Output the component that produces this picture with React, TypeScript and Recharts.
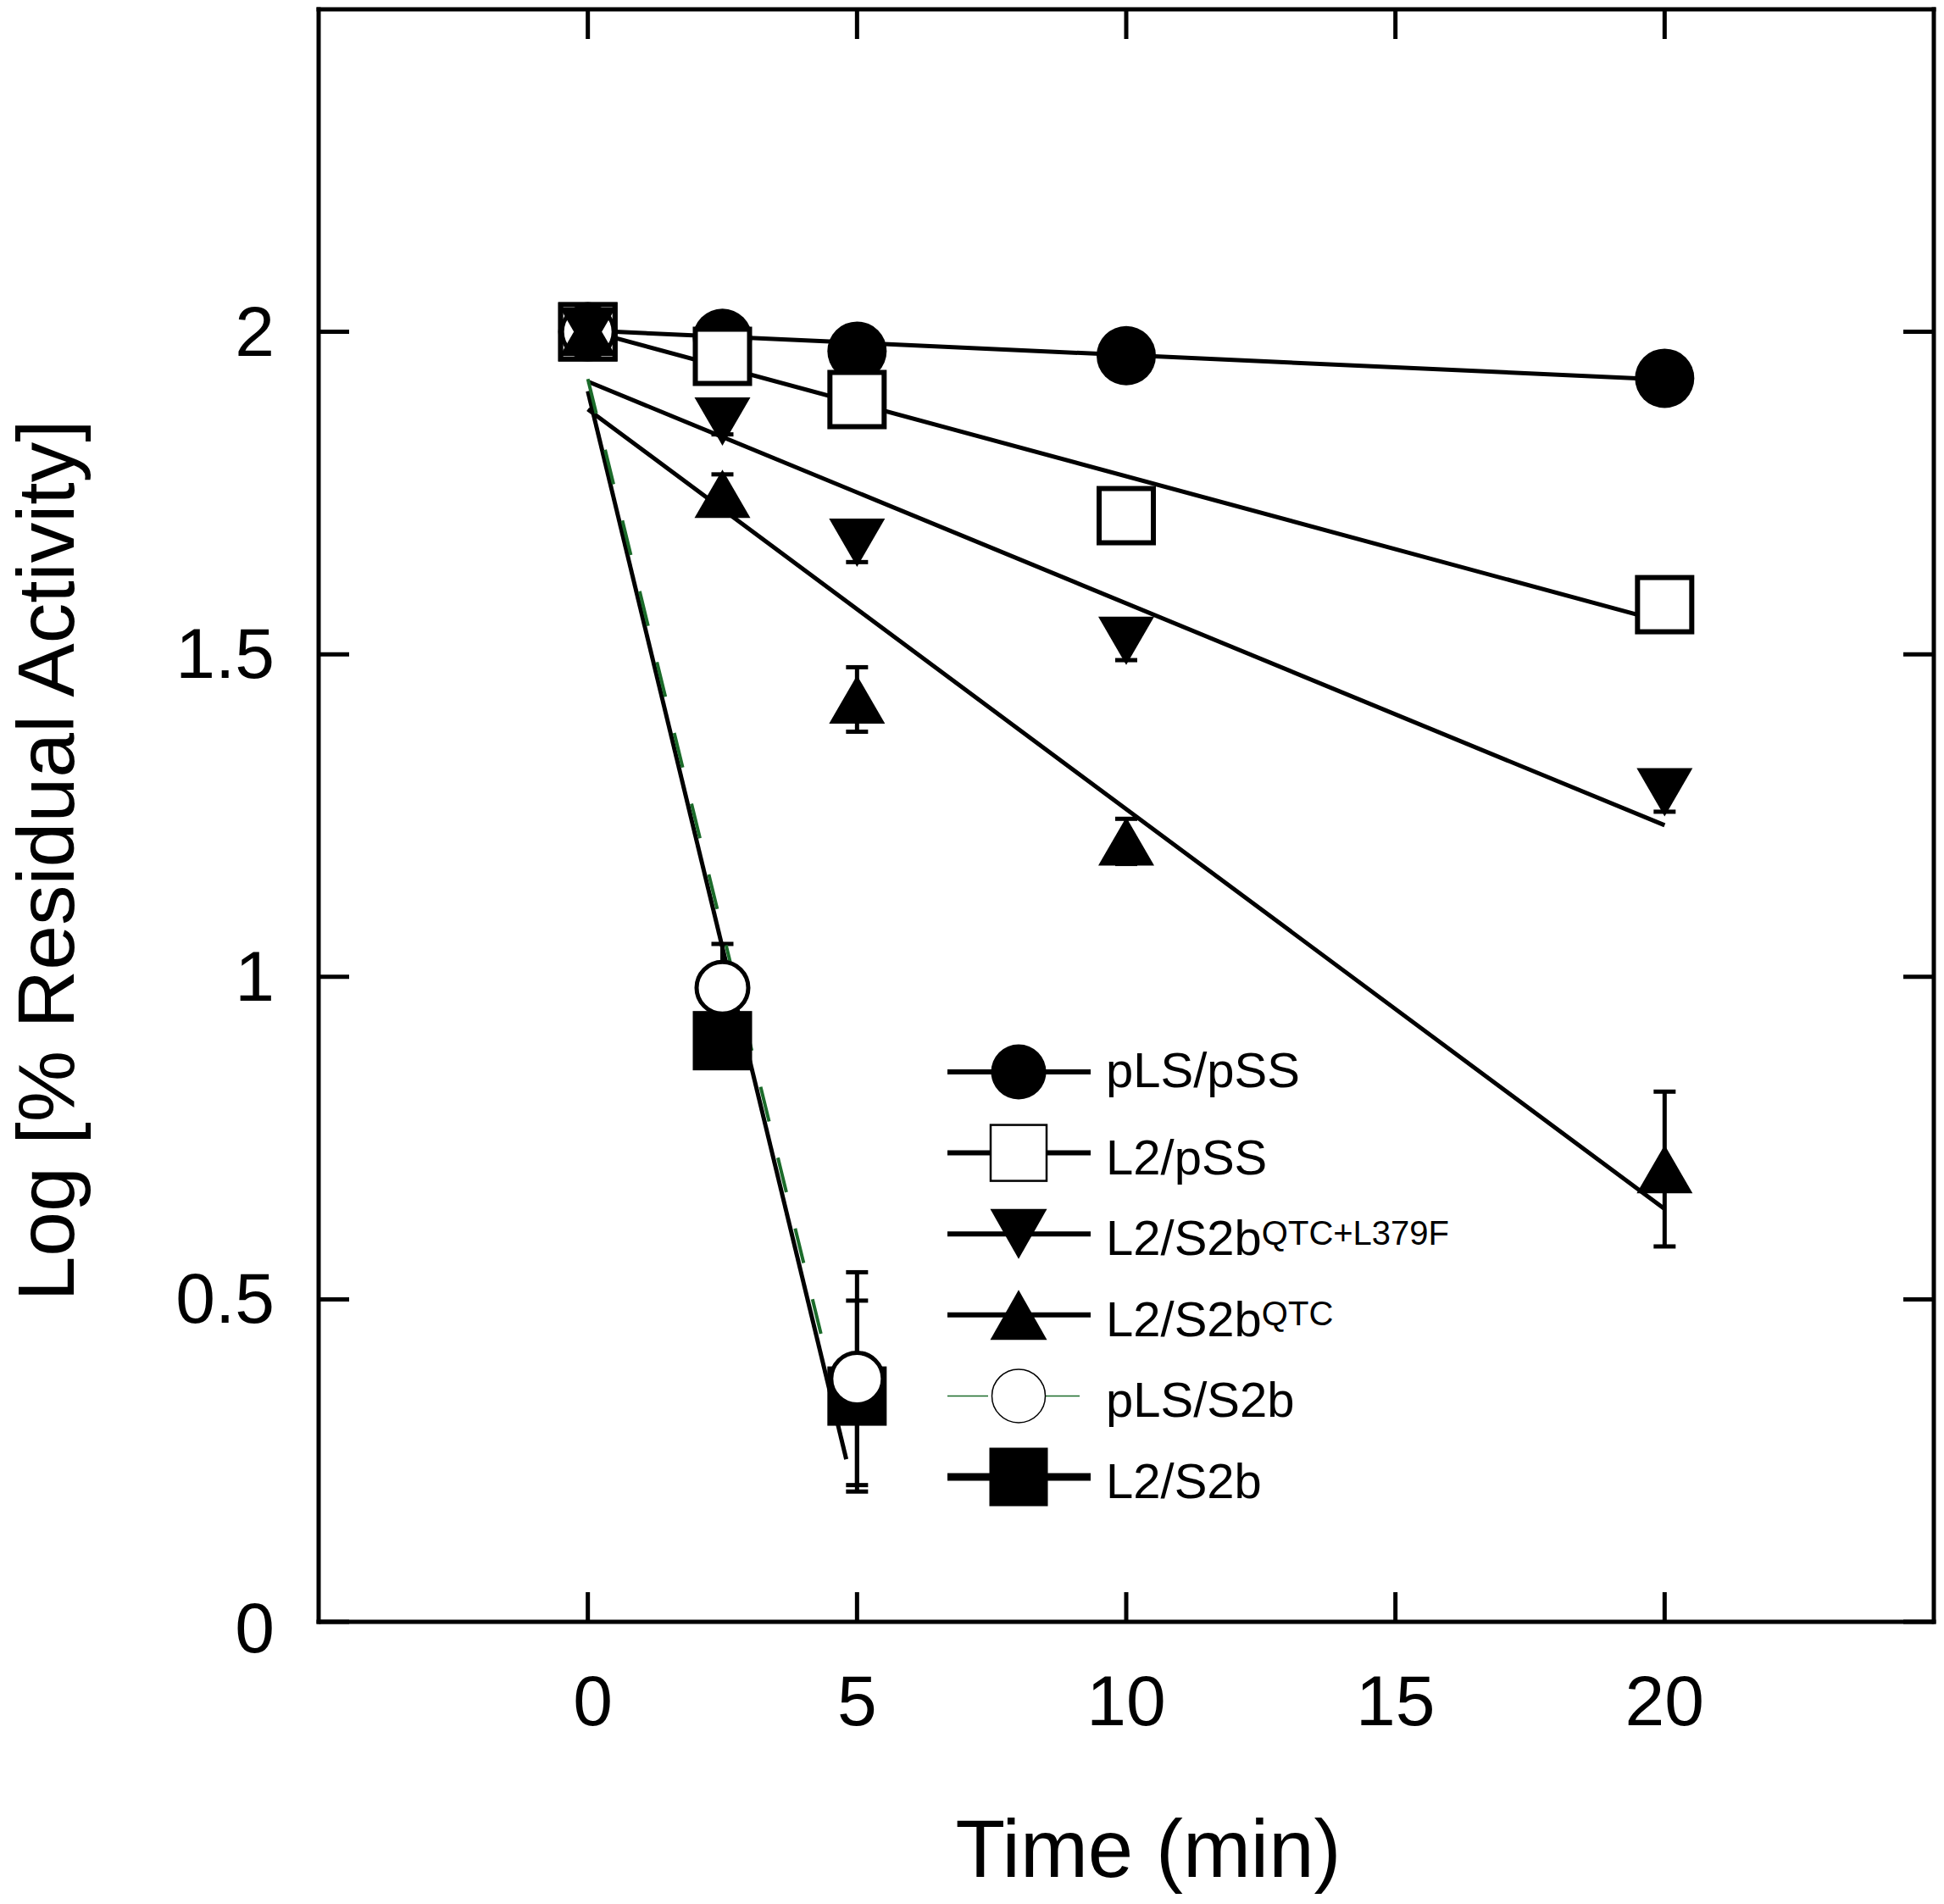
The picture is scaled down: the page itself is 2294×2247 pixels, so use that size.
import React from 'react';
import { ScatterChart, Scatter, XAxis, YAxis, ErrorBar, Legend } from 'recharts';

const FONT = '"Liberation Sans", Arial, Helvetica, sans-serif';
const GREEN = '#1b6b2a';

// sampling times (min)
const times = [0, 2.5, 5, 10, 20];
const timesShort = [0, 2.5, 5];

// log % residual activity
const pLSpSS = [2.0, 1.99, 1.97, 1.963, 1.928];
const L2pSS = [2.0, 1.962, 1.895, 1.715, 1.577];
const L2S2bQL = [2.0, 1.861, 1.673, 1.521, 1.286];
const L2S2bQLErr = [0, 0.02, 0.03, 0.03, 0.03];
const L2S2bQ = [2.0, 1.749, 1.43, 1.21, 0.702];
const L2S2bQErr = [0, 0.03, 0.05, 0.035, 0.12];
const pLSS2b = [2.0, 0.983, 0.377];
const pLSS2bErr = [0, 0.068, 0.165];
const L2S2b = [2.0, 0.901, 0.35];
const L2S2bErr = [0, 0, 0.148];

// regression lines (start / end)
const fitX = [0, 20];
const pLSpSSFit = [2.002, 1.926];
const L2pSSFit = [2.002, 1.55];
const L2S2bQLFit = [1.923, 1.235];
const L2S2bQFit = [1.88, 0.64];
const pLSS2bFitX = [0, 4.6];
const pLSS2bFit = [1.927, 0.354];
const L2S2bFitX = [0, 4.8];
const L2S2bFit = [1.908, 0.252];

const xTicks = [0, 5, 10, 15, 20];
const yTicks = [0, 0.5, 1, 1.5, 2];

const legendNames = ['pLS/pSS', 'L2/pSS', 'L2/S2b', 'L2/S2b', 'pLS/S2b', 'L2/S2b'];
const legendSups = ['', '', 'QTC+L379F', 'QTC', '', ''];

type Kind = 'fcircle' | 'osquare' | 'dtri' | 'utri' | 'ocircle' | 'fsquare';
const legendKinds: Kind[] = ['fcircle', 'osquare', 'dtri', 'utri', 'ocircle', 'fsquare'];

const pts = (xs: number[], ys: number[], errs?: number[]) =>
  xs.map((x, i) => ({ x, y: ys[i], err: errs ? errs[i] : 0 }));

const Marker = ({ cx, cy, kind, legend }: { cx: number; cy: number; kind: Kind; legend?: boolean }) => {
  switch (kind) {
    case 'fcircle':
      return <circle cx={cx} cy={cy} r={legend ? 32.5 : 35} fill="#000" />;
    case 'osquare': {
      const s = legend ? 66 : 64;
      return (
        <rect x={cx - s / 2} y={cy - s / 2} width={s} height={s} fill="#fff" stroke="#000"
          strokeWidth={legend ? 2.5 : 6} />
      );
    }
    case 'dtri': {
      const w = legend ? 33.5 : 33;
      const h = legend ? 29.5 : 28.5;
      return <polygon points={`${cx - w},${cy - h} ${cx + w},${cy - h} ${cx},${cy + h}`} fill="#000" />;
    }
    case 'utri': {
      const w = legend ? 33.5 : 33;
      const h = legend ? 29.5 : 28.5;
      return <polygon points={`${cx - w},${cy + h} ${cx + w},${cy + h} ${cx},${cy - h}`} fill="#000" />;
    }
    case 'ocircle':
      return legend ? (
        <circle cx={cx} cy={cy} r={31.5} fill="#fff" stroke="#000" strokeWidth={1.5} />
      ) : (
        <circle cx={cx} cy={cy} r={30.5} fill="#fff" stroke="#000" strokeWidth={5} />
      );
    default: {
      const s = legend ? 69 : 70;
      return <rect x={cx - s / 2} y={cy - s / 2} width={s} height={s} fill="#000" />;
    }
  }
};

const shapeOf = (kind: Kind) => (p: any) => <Marker cx={p.cx} cy={p.cy} kind={kind} />;
const noShape = () => <g />;

const BottomTick = ({ x, y, payload }: any) => (
  <g>
    <line x1={x} y1={y} x2={x} y2={y - 35} stroke="#000" strokeWidth={5} />
    <text x={x + (payload.value === 0 ? 6 : 0)} y={y + 122} textAnchor="middle" fontFamily={FONT} fontSize={84} fill="#000">
      {payload.value}
    </text>
  </g>
);
const TopTick = ({ x, y }: any) => <line x1={x} y1={y} x2={x} y2={y + 35} stroke="#000" strokeWidth={5} />;
const LeftTick = ({ x, y, payload }: any) => (
  <g>
    <line x1={x} y1={y} x2={x + 36} y2={y} stroke="#000" strokeWidth={5} />
    <text x={x - 52} y={y + (payload.value === 0 ? 36 : 28)} textAnchor="end" fontFamily={FONT} fontSize={84} fill="#000">
      {payload.value}
    </text>
  </g>
);
const RightTick = ({ x, y }: any) => <line x1={x} y1={y} x2={x - 36} y2={y} stroke="#000" strokeWidth={5} />;

const XLabel = (props: any) => {
  const vb = props.viewBox || { x: 376, y: 1914, width: 1906 };
  return (
    <text x={vb.x + vb.width / 2 + 26} y={vb.y + 301} textAnchor="middle" fontFamily={FONT} fontSize={96} fill="#000">
      Time (min)
    </text>
  );
};
const YLabel = (props: any) => {
  const vb = props.viewBox || { x: 76, y: 11, height: 1903 };
  const x = vb.x + 11;
  const y = vb.y + vb.height / 2 + 53;
  return (
    <text x={x} y={y} transform={`rotate(-90, ${x}, ${y})`} textAnchor="middle" fontFamily={FONT} fontSize={95} fill="#000">
      Log [% Residual Activity]
    </text>
  );
};

const LegendBox = () => (
  <svg width={700} height={600} style={{ overflow: 'visible', display: 'block' }}>
    {legendNames.map((name, i) => {
      const y = 65 + i * 95.6;
      const kind = legendKinds[i];
      return (
        <g key={i}>
          {kind === 'ocircle' ? (
            <>
              <line x1={18} y1={y} x2={66} y2={y} stroke={GREEN} strokeWidth={1.5} />
              <line x1={134} y1={y} x2={174} y2={y} stroke={GREEN} strokeWidth={1.5} />
            </>
          ) : (
            <line x1={18} y1={y} x2={187} y2={y} stroke="#000" strokeWidth={kind === 'fsquare' ? 9 : 6} />
          )}
          <Marker cx={102} cy={y} kind={kind} legend />
          <text x={205} y={y + (i === 0 ? 18 : 25)} fontFamily={FONT} fontSize={58} fill="#000">
            {name}
            {legendSups[i] && (
              <tspan dy={-12.5} fontSize={40}>
                {legendSups[i]}
              </tspan>
            )}
          </text>
        </g>
      );
    })}
  </svg>
);

const axisLine = { stroke: '#000', strokeWidth: 5, strokeLinecap: 'square' as const };

export default function App() {
  return (
    <div style={{ position: 'absolute', left: 0, top: 0, width: 2294, height: 2247, background: '#fff' }}>
      <ScatterChart width={2294} height={2247} margin={{ top: 10, right: 11, bottom: 133, left: 76 }}>
        <XAxis dataKey="x" type="number" domain={[-5, 25]} ticks={xTicks} interval={0} allowDataOverflow
          height={200} tickLine={false} tickSize={0} tickMargin={0} axisLine={axisLine} tick={<BottomTick />}
          label={XLabel} />
        <XAxis xAxisId="top" orientation="top" dataKey="x" type="number" domain={[-5, 25]} ticks={xTicks}
          interval={0} allowDataOverflow height={1} tickLine={false} tickSize={0} tickMargin={0}
          axisLine={axisLine} tick={<TopTick />} />
        <YAxis dataKey="y" type="number" domain={[0, 2.5]} ticks={yTicks} interval={0} allowDataOverflow
          width={300} tickLine={false} tickSize={0} tickMargin={0} axisLine={axisLine} tick={<LeftTick />}
          label={YLabel} />
        <YAxis yAxisId="right" orientation="right" dataKey="y" type="number" domain={[0, 2.5]} ticks={yTicks}
          interval={0} allowDataOverflow width={1} tickLine={false} tickSize={0} tickMargin={0}
          axisLine={axisLine} tick={<RightTick />} />

        {/* regression lines, under the symbols */}
        <Scatter data={pts(fitX, pLSpSSFit)} fill="#000" line={{ stroke: '#000', strokeWidth: 5 }} shape={noShape} isAnimationActive={false} />
        <Scatter data={pts(fitX, L2pSSFit)} fill="#000" line={{ stroke: '#000', strokeWidth: 5 }} shape={noShape} isAnimationActive={false} />
        <Scatter data={pts(fitX, L2S2bQLFit)} fill="#000" line={{ stroke: '#000', strokeWidth: 5 }} shape={noShape} isAnimationActive={false} />
        <Scatter data={pts(fitX, L2S2bQFit)} fill="#000" line={{ stroke: '#000', strokeWidth: 5 }} shape={noShape} isAnimationActive={false} />
        <Scatter data={pts(L2S2bFitX, L2S2bFit)} fill="#000" line={{ stroke: '#000', strokeWidth: 5 }} shape={noShape} isAnimationActive={false} />
        <Scatter data={pts(pLSS2bFitX, pLSS2bFit)} fill={GREEN}
          line={{ stroke: GREEN, strokeWidth: 4, strokeDasharray: '42 44' }} shape={noShape} isAnimationActive={false} />

        {/* data points */}
        <Scatter name="L2/S2b" data={pts(timesShort, L2S2b, L2S2bErr)} fill="#000" shape={shapeOf('fsquare')} isAnimationActive={false}>
          <ErrorBar dataKey="err" direction="y" width={13} strokeWidth={5} stroke="#000" />
        </Scatter>
        <Scatter name="pLS/pSS" data={pts(times, pLSpSS)} fill="#000" shape={shapeOf('fcircle')} isAnimationActive={false} />
        <Scatter name="L2/pSS" data={pts(times, L2pSS)} fill="#000" shape={shapeOf('osquare')} isAnimationActive={false} />
        <Scatter name="pLS/S2b" data={pts(timesShort, pLSS2b, pLSS2bErr)} fill="#000" shape={shapeOf('ocircle')} isAnimationActive={false}>
          <ErrorBar dataKey="err" direction="y" width={13} strokeWidth={5} stroke="#000" />
        </Scatter>
        <Scatter name="L2/S2bQTC+L379F" data={pts(times, L2S2bQL, L2S2bQLErr)} fill="#000" shape={shapeOf('dtri')} isAnimationActive={false}>
          <ErrorBar dataKey="err" direction="y" width={13} strokeWidth={5} stroke="#000" />
        </Scatter>
        <Scatter name="L2/S2bQTC" data={pts(times, L2S2bQ, L2S2bQErr)} fill="#000" shape={shapeOf('utri')} isAnimationActive={false}>
          <ErrorBar dataKey="err" direction="y" width={13} strokeWidth={5} stroke="#000" />
        </Scatter>

        <Legend layout="horizontal" align="center" verticalAlign="middle" content={() => <LegendBox />}
          wrapperStyle={{ position: 'absolute', left: 1100, top: 1200, width: 700, height: 600 }} />
      </ScatterChart>
    </div>
  );
}
